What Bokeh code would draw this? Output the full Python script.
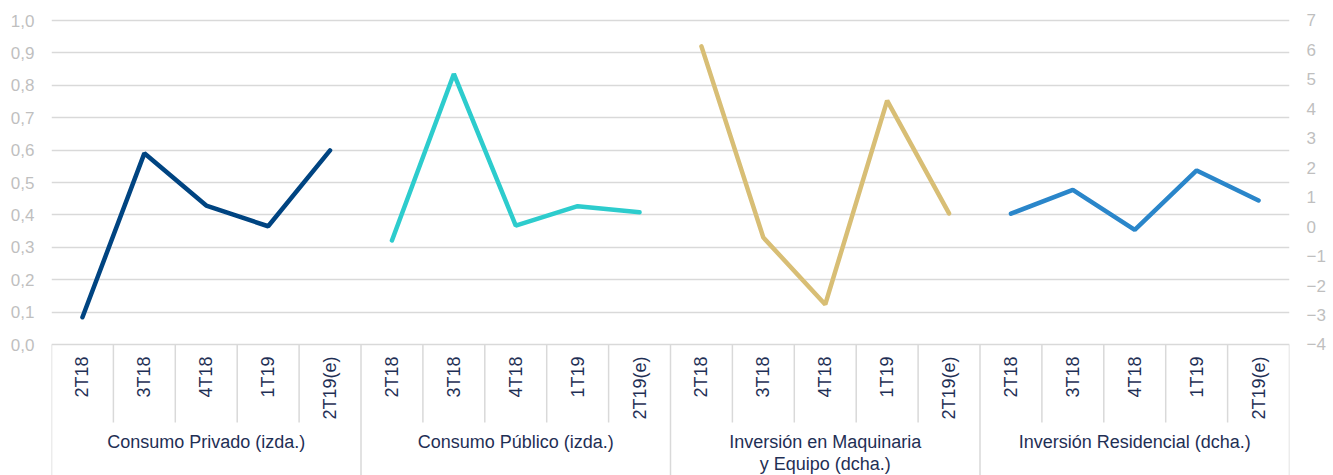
import math
from bokeh.plotting import figure
from bokeh.models import (FactorRange, Range1d, LinearAxis, FixedTicker,
                          CustomJSTickFormatter, ColumnDataSource)
from bokeh.core.properties import value
from bokeh.embed import file_html
from bokeh.resources import INLINE

# ---------------- data ----------------
quarters = ["2T18", "3T18", "4T18", "1T19", "2T19(e)"]
groups = ["Consumo Privado (izda.)", "Consumo Público (izda.)",
          "Inversión en Maquinaria y Equipo (dcha.)", "Inversión Residencial (dcha.)"]
group_labels = ["Consumo Privado (izda.)", "Consumo Público (izda.)",
                "Inversión en Maquinaria\ny Equipo (dcha.)", "Inversión Residencial (dcha.)"]

consumo_privado = [0.084, 0.590, 0.429, 0.365, 0.599]       # left axis
consumo_publico = [0.321, 0.835, 0.367, 0.427, 0.408]       # left axis
inversion_maquinaria = [6.12, -0.37, -2.64, 4.28, 0.45]     # right axis
inversion_residencial = [0.44, 1.25, -0.11, 1.91, 0.89]     # right axis

left_ticks = [0.0, 0.1, 0.2, 0.3, 0.4, 0.5, 0.6, 0.7, 0.8, 0.9, 1.0]
right_ticks = [-4, -3, -2, -1, 0, 1, 2, 3, 4, 5, 6, 7]

# ---------------- style ----------------
FONT = "Liberation Sans"
NAVY_TEXT = "#1F2F55"
GREY_TEXT = "#BFBFBF"
GRID = "#D9D9D9"
colors = ["#004481", "#2DCCCD", "#D8BE75", "#2A86CA"]
axis_side = ["left", "left", "right", "right"]
series = [consumo_privado, consumo_publico, inversion_maquinaria, inversion_residencial]

factors = [(g, q) for g in groups for q in quarters]
x_range = FactorRange(*factors, factor_padding=0, group_padding=0,
                      subgroup_padding=0, range_padding=0)

p = figure(width=1333, height=475, x_range=x_range,
           y_range=Range1d(-0.4043, 1.0247),
           output_backend="svg", toolbar_location=None,
           min_border_left=51, min_border_right=44,
           min_border_top=12, min_border_bottom=0)
p.extra_y_ranges = {"right": Range1d(-8.448, 7.2716)}
p.outline_line_color = None
p.background_fill_color = "white"
p.border_fill_color = "white"

# left axis
ly = p.left[0]
ly.ticker = FixedTicker(ticks=left_ticks)
ly.formatter = CustomJSTickFormatter(code="return tick.toFixed(1).replace('.', ',');")
ly.axis_line_color = None
ly.major_tick_line_color = None
ly.minor_tick_line_color = None
ly.major_tick_out = 0
ly.major_tick_in = 0
ly.major_label_standoff = 17
ly.major_label_text_font = FONT
ly.major_label_text_font_size = "17px"
ly.major_label_text_color = GREY_TEXT

# right axis
ry = LinearAxis(y_range_name="right", ticker=FixedTicker(ticks=right_ticks))
ry.axis_line_color = None
ry.major_tick_line_color = None
ry.minor_tick_line_color = None
ry.major_tick_out = 0
ry.major_tick_in = 0
ry.major_label_standoff = 17
ry.major_label_text_font = FONT
ry.major_label_text_font_size = "17px"
ry.major_label_text_color = GREY_TEXT
p.add_layout(ry, "right")

# grid
p.xgrid.grid_line_color = None
p.ygrid.ticker = FixedTicker(ticks=left_ticks[1:])
p.ygrid.grid_line_color = GRID
p.ygrid.grid_line_width = 1.5

# category axis at y = 0
xa = p.below[0]
xa.fixed_location = 0
xa.axis_line_color = GRID
xa.axis_line_width = 1.5
xa.major_tick_line_color = None
xa.minor_tick_line_color = None
xa.major_tick_out = 0
xa.major_tick_in = 0
xa.major_label_orientation = math.pi / 2
xa.major_label_standoff = 12
xa.major_label_text_font = FONT
xa.major_label_text_font_size = "18px"
xa.major_label_text_color = NAVY_TEXT
xa.group_text_alpha = 0
xa.separator_line_color = None

# separators
q_sep_bottom = -0.2407
g_sep_bottom = -0.4043
qs_x, gs_x = [], []
for g in groups:
    gs_x.append((g, quarters[0], -0.5))
    for q in quarters[1:]:
        qs_x.append((g, q, -0.5))
gs_x.append((groups[-1], quarters[-1], 0.5))
p.segment(x0=qs_x, y0=[0] * len(qs_x), x1=qs_x, y1=[q_sep_bottom] * len(qs_x),
          line_color=GRID, line_width=1.5)
p.segment(x0=gs_x, y0=[0] * len(gs_x), x1=gs_x, y1=[g_sep_bottom] * len(gs_x),
          line_color=GRID, line_width=1.5)

# group labels
p.text(x=[(g, quarters[2]) for g in groups], y=[-0.2710] * len(groups),
       text=group_labels, text_align="center", text_baseline="top",
       text_font=value(FONT), text_font_size="18px", text_color=NAVY_TEXT,
       text_line_height=1.1)

# series lines
for g, vals, c, side in zip(groups, series, colors, axis_side):
    src = ColumnDataSource(dict(x=[(g, q) for q in quarters], y=vals))
    kw = {} if side == "left" else {"y_range_name": "right"}
    p.line("x", "y", source=src, line_color=c, line_width=4.5,
           line_cap="round", **kw)

open("out.html", "w").write(file_html(p, INLINE))
